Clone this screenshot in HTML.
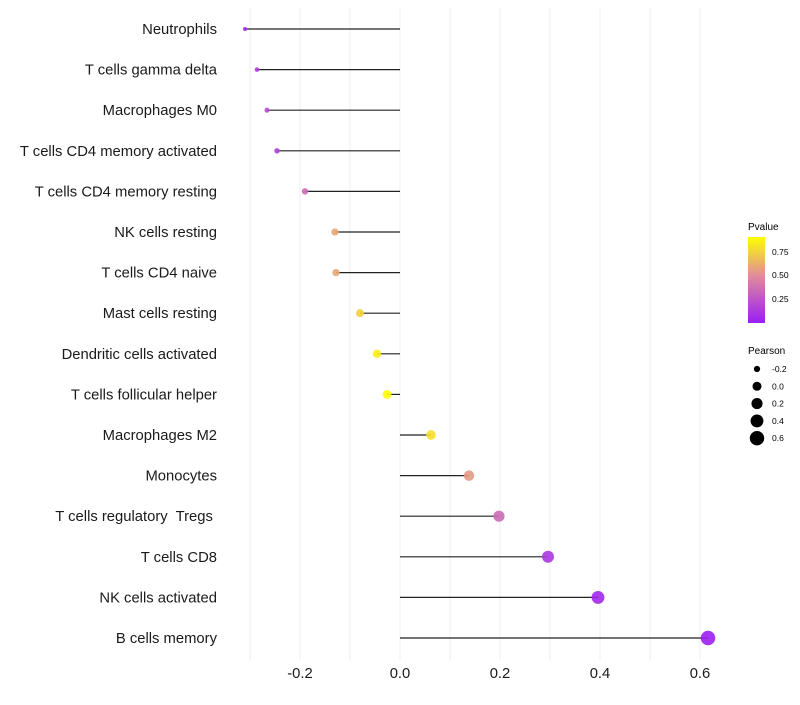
<!DOCTYPE html>
<html><head><meta charset="utf-8"><style>
body{margin:0;background:#fff;font-family:"Liberation Sans",sans-serif}
text{white-space:pre}
</style></head><body>
<svg id="c" width="800" height="700" xmlns="http://www.w3.org/2000/svg">
<defs><linearGradient id="pg" x1="0" y1="1" x2="0" y2="0">
<stop offset="0" stop-color="#9a1ef5"/><stop offset="0.55" stop-color="#e08c9a"/><stop offset="1" stop-color="#ffff00"/></linearGradient></defs>
<g id="grid"></g><g id="marks"></g><g id="labels"></g><g id="xticks"></g>
<g font-size="10">
<text x="748" y="230">Pvalue</text>
<rect x="748" y="237" width="17" height="86" fill="url(#pg)"/>
<text x="772" y="255" font-size="8.5">0.75</text>
<text x="772" y="278" font-size="8.5">0.50</text>
<text x="772" y="302" font-size="8.5">0.25</text>
</g>
<g font-size="10">
<text x="748" y="354">Pearson</text>
</g>
</svg>
<script>
const cats=["Neutrophils","T cells gamma delta","Macrophages M0","T cells CD4 memory activated","T cells CD4 memory resting","NK cells resting","T cells CD4 naive","Mast cells resting","Dendritic cells activated","T cells follicular helper","Macrophages M2","Monocytes","T cells regulatory  Tregs ","T cells CD8","NK cells activated","B cells memory"];
const pearson=[-0.31,-0.286,-0.266,-0.246,-0.19,-0.13,-0.128,-0.08,-0.046,-0.026,0.062,0.138,0.198,0.296,0.396,0.616];
const pvalues=[0.05,0.12,0.2,0.15,0.35,0.6,0.6,0.75,0.85,0.95,0.8,0.55,0.35,0.12,0.05,0.01];
const xTicks=[-0.2,0.0,0.2,0.4,0.6];
const gridVals=[-0.3,-0.2,-0.1,0,0.1,0.2,0.3,0.4,0.5,0.6];
const sizeLegend=[-0.2,0.0,0.2,0.4,0.6];
const NS="http://www.w3.org/2000/svg";
const X=v=>400+v*500, Y=i=>29+i*40.6;
const R=v=>Math.sqrt(4+(v+0.31)*49/0.93);
function col(p){const s=[[0,[154,30,245]],[0.55,[224,140,154]],[1,[255,255,0]]];p=Math.max(0,Math.min(1,p/0.91));
for(let k=0;k<2;k++){if(p<=s[k+1][0]){const t=(p-s[k][0])/(s[k+1][0]-s[k][0]);const a=s[k][1],b=s[k+1][1];return `rgb(${a.map((c,j)=>Math.round(c+(b[j]-c)*t)).join(',')})`;}}return "#ff0";}
function mk(t,a,p){const e=document.createElementNS(NS,t);for(const k in a)e.setAttribute(k,a[k]);(p||document.getElementById('c')).appendChild(e);return e;}
const g=document.getElementById('grid');
gridVals.forEach(v=>{const l=mk('line',{x1:X(v),x2:X(v),y1:8,y2:660,stroke:'#efefef','stroke-width':1},g);

});
const m=document.getElementById('marks'),lb=document.getElementById('labels');
cats.forEach((c,i)=>{
 const l=mk('line',{x1:X(0),x2:X(pearson[i]),y1:Y(i),y2:Y(i),stroke:'#222','stroke-width':1.2},m);
 
 
 const d=mk('circle',{cx:X(pearson[i]),cy:Y(i),r:R(pearson[i]),fill:col(pvalues[i]),opacity:0.9},m);
 
 
 const t=mk('text',{x:217,y:Y(i)+5,'text-anchor':'end','font-size':14.8,fill:'#1a1a1a'},lb);t.textContent=c;
 
 
});
const xt=document.getElementById('xticks');
xTicks.forEach(v=>{const t=mk('text',{x:X(v),y:678,'text-anchor':'middle','font-size':14.8,fill:'#1a1a1a'},xt);t.textContent=v.toFixed(1);

});
sizeLegend.forEach((v,i)=>{const y=369+i*17.3;
 const d=mk('circle',{cx:757,cy:y,r:R(v),fill:'#000'});
 
 
 const t=mk('text',{x:772,y:y+3,'font-size':8.5});t.textContent=v.toFixed(1);
 
 });
</script>
</body></html>
